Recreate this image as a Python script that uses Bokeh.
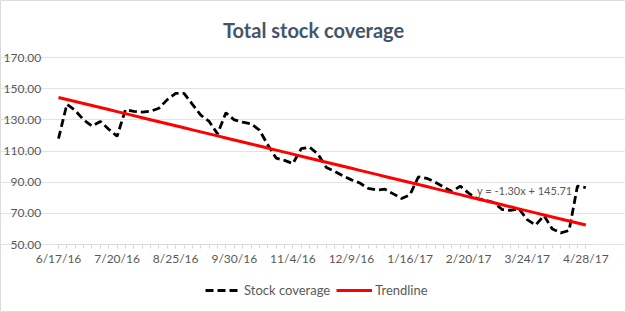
from bokeh.plotting import figure
from bokeh.models import FixedTicker, Legend, LegendItem, Label, ColumnDataSource
from bokeh.embed import file_html
from bokeh.resources import INLINE

# ---- data ----
stock_coverage = [118, 140, 136, 130, 126, 129, 124, 119.5, 136.5, 135.5,
                  135, 135.5, 137.5, 143, 147, 147, 140, 133, 129, 121,
                  134.5, 130, 128.5, 127.5, 123.5, 114, 105.5, 104, 102, 111.5,
                  112.5, 108, 99.5, 97, 94, 91.5, 89.5, 86, 85, 85.5,
                  82.5, 79.5, 82, 93.5, 92.5, 90, 87, 84, 87.5, 83,
                  79.5, 78.5, 77, 72.5, 72, 73, 66, 62.5, 68.5, 60,
                  57.5, 59, 87.5, 86.5]
tick_labels = ["6/17/16", "7/20/16", "8/25/16", "9/30/16", "11/4/16",
               "12/9/16", "1/16/17", "2/20/17", "3/24/17", "4/28/17"]
label_every = 7
trend_slope = -1.30
trend_intercept = 145.71
y_ticks = [50, 70, 90, 110, 130, 150, 170]
title_text = "Total stock coverage"

idx = list(range(len(stock_coverage)))
trend = [trend_intercept + trend_slope * (i + 1) for i in idx]
src = ColumnDataSource(dict(x=idx, y=stock_coverage, t=trend))

FONT = "Lato"
GREY = "#595959"

# plot-area extent (data units); the frame covers the whole canvas
X0, X1 = -0.4, 63.8
p = figure(width=626, height=312, output_backend="svg", toolbar_location=None,
           x_range=(-6.93, 67.86), y_range=(6.4, 206.6),
           min_border_left=0, min_border_right=0, min_border_top=0,
           min_border_bottom=0)
p.outline_line_color = "#DCDCDC"

l1 = p.line("x", "y", source=src, line_color="black", line_width=2.8, line_dash="8 4")
l2 = p.line("x", "t", source=src, line_color="#FF0000", line_width=3)

label_pos = [i * label_every for i in range(len(tick_labels))]
p.xaxis.fixed_location = y_ticks[0]
p.xaxis.bounds = (X0, X1)
p.xaxis.ticker = FixedTicker(ticks=label_pos, minor_ticks=idx)
p.xaxis.major_label_overrides = {pos: lab for pos, lab in zip(label_pos, tick_labels)}
p.xaxis.axis_line_color = "#D9D9D9"
p.xaxis.major_tick_line_color = "#D9D9D9"
p.xaxis.minor_tick_line_color = "#D9D9D9"
p.xaxis.major_tick_in = 0
p.xaxis.major_tick_out = 4
p.xaxis.minor_tick_in = 0
p.xaxis.minor_tick_out = 4
p.xaxis.major_label_text_font = FONT
p.xaxis.major_label_text_font_size = "12px"
p.xaxis.major_label_text_color = GREY
p.xaxis.major_label_standoff = 2

p.yaxis.fixed_location = X0
p.yaxis.bounds = (y_ticks[0], y_ticks[-1])
p.yaxis.ticker = FixedTicker(ticks=y_ticks)
p.yaxis.major_label_overrides = {v: f"{v:.2f}" for v in y_ticks}
p.yaxis.axis_line_color = None
p.yaxis.major_tick_line_color = None
p.yaxis.minor_tick_line_color = None
p.yaxis.major_label_text_font = FONT
p.yaxis.major_label_text_font_size = "12px"
p.yaxis.major_label_text_color = GREY
p.yaxis.major_label_standoff = 8

p.xgrid.grid_line_color = None
p.ygrid.grid_line_color = "#E3E3E3"
p.ygrid.ticker = FixedTicker(ticks=y_ticks)
p.ygrid.bounds = (X0, X1)

title = Label(x=30.47, y=187.5, text=title_text, text_font=FONT,
              text_font_size="20px", text_font_style="bold", text_color="#44546A",
              text_align="center", text_baseline="middle")
p.add_layout(title)

eq = Label(x=50.0, y=84.5, text=f"y = {trend_slope:.2f}x + {trend_intercept:.2f}",
           text_font=FONT, text_font_size="11px", text_color=GREY,
           text_baseline="middle", text_align="left")
p.add_layout(eq)

legend = Legend(items=[LegendItem(label="Stock coverage", renderers=[l1]),
                       LegendItem(label="Trendline", renderers=[l2])],
                orientation="horizontal", location=(205, 12),
                label_text_font=FONT, label_text_font_size="13px",
                label_text_color=GREY, glyph_width=36, spacing=6,
                label_standoff=3, border_line_color=None,
                background_fill_alpha=0, padding=2, margin=0)
p.add_layout(legend)

open("out.html", "w").write(file_html(p, INLINE))
